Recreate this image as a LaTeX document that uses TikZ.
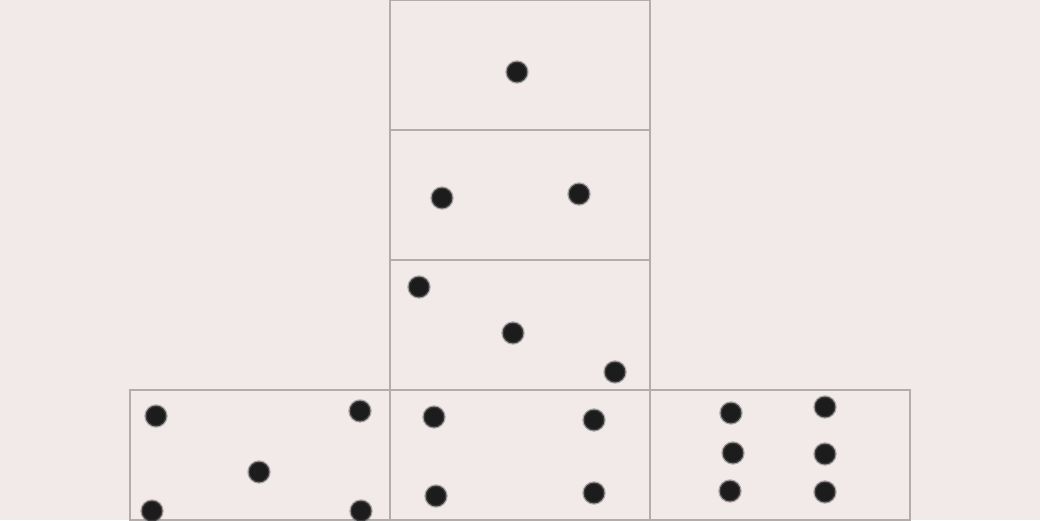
\documentclass[tikz,border=0pt]{standalone}
\definecolor{bg}{HTML}{F2EAE9}
\definecolor{edge}{HTML}{B2ACAA}
\definecolor{pip}{HTML}{1C1C1C}
\tikzset{
  face/.style={draw=edge, line width=1.5pt, minimum width=260pt, minimum height=130pt, inner sep=0pt, outer sep=0pt, anchor=north west},
  pip/.style={circle, fill=pip, minimum size=21pt, inner sep=0pt, draw=pip!70, draw opacity=0.45, line width=2.5pt},
}
\begin{document}
\begin{tikzpicture}[x=1pt,y=-1pt]
\fill[bg] (0,0) rectangle (1040,520);
\useasboundingbox (0,0) rectangle (1040,520);
% faces
\node[face] (f1) at (390,0) {};
\node[face] (f2) at (390,130) {};
\node[face] (f3) at (390,260) {};
\node[face] (f4) at (130,390) {};
\node[face] (f5) at (390,390) {};
\node[face] (f6) at (650,390) {};
% one
\node[pip] (a1) at (517,72) {};
% two
\node[pip] (b1) at (442,198) {};
\node[pip] (b2) at (579,194) {};
% three
\node[pip] (c1) at (419,287) {};
\node[pip] (c2) at (513,333) {};
\node[pip] (c3) at (615,372) {};
% five
\node[pip] (d1) at (156,416) {};
\node[pip] (d2) at (360,411) {};
\node[pip] (d3) at (259,472) {};
\node[pip] (d4) at (152,511) {};
\node[pip] (d5) at (361,511) {};
% four
\node[pip] (e1) at (434,417) {};
\node[pip] (e2) at (594,420) {};
\node[pip] (e3) at (436,496) {};
\node[pip] (e4) at (594,493) {};
% six
\node[pip] (g1) at (731,413) {};
\node[pip] (g2) at (825,407) {};
\node[pip] (g3) at (733,453) {};
\node[pip] (g4) at (825,454) {};
\node[pip] (g5) at (730,491) {};
\node[pip] (g6) at (825,492) {};
\end{tikzpicture}
\end{document}
